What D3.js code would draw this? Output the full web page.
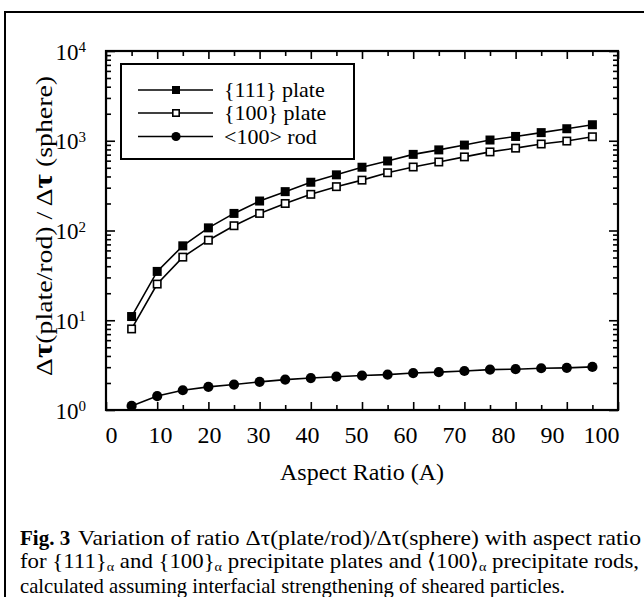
<!DOCTYPE html>
<html><head><meta charset="utf-8">
<script src="https://cdn.jsdelivr.net/npm/d3@7"></script>
<style>
body{margin:0;background:#fff}
svg{display:block}
text{font-family:"Liberation Serif","Times New Roman",serif;fill:#000}
</style>
</head><body>
<svg id="c" width="644" height="597"></svg>
<script>
// ---- data ----
const aspect   = [5,10,15,20,25,30,35,40,45,50,55,60,65,70,75,80,85,90,95];
const plate111 = [11,35,67.5,107,155,213,271,345,417,507,595,705,791,895,1019,1117,1232,1361,1508];
const plate100 = [8.0,25.3,50.5,78,113,155,200,253,308,364,440,510,580,661,751,827,920,992,1108];
const rod100   = [1.11,1.43,1.66,1.81,1.92,2.06,2.18,2.27,2.35,2.42,2.48,2.58,2.64,2.72,2.82,2.85,2.92,2.95,3.02];
const xTickLabels = [0,10,20,30,40,50,60,70,80,90,100];
const yDecades = [0,1,2,3,4];
const seriesNames = ["{111} plate","{100} plate","<100> rod"];

const svg = d3.select("#c");
const L=106,R=618,T=51,B=410;
const x = d3.scaleLinear().domain([0,100]).range([L,R]);
const xLab = d3.scaleLinear().domain([0,100]).range([111,601]); // labels sit slightly inside the ticks in the scan
const y = d3.scaleLog().domain([1,1e4]).range([B,T]);

// outer figure border
svg.append("path").attr("d","M5,597 V12 H644").attr("fill","none").attr("stroke","#000").attr("stroke-width",2);

const xMinor = d3.range(5,100,10);
const yMinor = [];
for(let k=0;k<4;k++) for(let m=2;m<10;m++) yMinor.push(m*Math.pow(10,k));

function styleAxis(g){ g.select(".domain").remove(); g.selectAll(".tick line").attr("stroke","#000").attr("stroke-width",1.6); }

// bottom ticks + labels
svg.append("g").attr("transform",`translate(0,${B})`).call(d3.axisBottom(x).tickValues(xTickLabels).tickSize(-8).tickFormat("")).call(styleAxis);
svg.append("g").attr("transform",`translate(0,${B})`).call(d3.axisBottom(x).tickValues(xMinor).tickSize(-5).tickFormat("")).call(styleAxis);
const gxl = svg.append("g").attr("transform",`translate(0,${B})`)
  .call(d3.axisBottom(xLab).tickValues(xTickLabels).tickSize(0).tickPadding(19).tickFormat(d=>d));
gxl.select(".domain").remove(); gxl.selectAll(".tick line").remove();
gxl.selectAll("text").attr("font-size",24).attr("font-family","Liberation Serif").attr("dy","0.6em");
// top ticks
svg.append("g").attr("transform",`translate(0,${T})`).call(d3.axisTop(x).tickValues(xTickLabels).tickSize(-8).tickFormat("")).call(styleAxis);
svg.append("g").attr("transform",`translate(0,${T})`).call(d3.axisTop(x).tickValues(xMinor).tickSize(-5).tickFormat("")).call(styleAxis);

// left axis
const gyl = svg.append("g").attr("transform",`translate(${L},0)`)
  .call(d3.axisLeft(y).tickValues(yDecades.map(e=>Math.pow(10,e))).tickSize(-9).tickPadding(20).tickFormat(""));
styleAxis(gyl);
gyl.selectAll(".tick text").each(function(d){
  const t=d3.select(this).attr("font-size",23).attr("font-family","Liberation Serif").attr("dy","0.35em");
  t.append("tspan").text("10");
  t.append("tspan").attr("dy","-0.5em").attr("font-size",15).text(Math.round(Math.log10(d)));
});
svg.append("g").attr("transform",`translate(${L},0)`).call(d3.axisLeft(y).tickValues(yMinor).tickSize(-5).tickFormat("")).call(styleAxis);
// right axis
svg.append("g").attr("transform",`translate(${R},0)`).call(d3.axisRight(y).tickValues(yDecades.map(e=>Math.pow(10,e))).tickSize(-9).tickFormat("")).call(styleAxis);
svg.append("g").attr("transform",`translate(${R},0)`).call(d3.axisRight(y).tickValues(yMinor).tickSize(-5).tickFormat("")).call(styleAxis);

// frame
svg.append("rect").attr("x",L).attr("y",T).attr("width",R-L).attr("height",B-T).attr("fill","none").attr("stroke","#000").attr("stroke-width",2.2);

// lines
const line = d3.line().x(d=>x(d[0])).y(d=>y(d[1]));
const data = [plate111,plate100,rod100].map(s=>aspect.map((a,i)=>[a,s[i]]));
data.forEach(d=>svg.append("path").datum(d).attr("d",line).attr("fill","none").attr("stroke","#000").attr("stroke-width",1.6));

function marker(g,type,cx,cy,s){
  if(type===0) g.append("rect").attr("x",cx-s/2).attr("y",cy-s/2).attr("width",s).attr("height",s).attr("fill","#000");
  else if(type===1) g.append("rect").attr("x",cx-s/2+0.8).attr("y",cy-s/2+0.8).attr("width",s-1.6).attr("height",s-1.6).attr("fill","#fff").attr("stroke","#000").attr("stroke-width",1.6);
  else g.append("circle").attr("cx",cx).attr("cy",cy).attr("r",s/2+0.6).attr("fill","#000");
}
const gm = svg.append("g");
data.forEach((d,k)=>d.forEach(p=>marker(gm,k,x(p[0]),y(p[1]),9)));

// legend
svg.append("rect").attr("x",121).attr("y",64).attr("width",233).attr("height",95).attr("fill","#fff").attr("stroke","#000").attr("stroke-width",2);
const legY=[90,113,136.5];
seriesNames.forEach((n,k)=>{
  const g=svg.append("g");
  g.append("line").attr("x1",138).attr("x2",213).attr("y1",legY[k]).attr("y2",legY[k]).attr("stroke","#000").attr("stroke-width",1.4);
  marker(g,k,176,legY[k],8);
  g.append("text").attr("x",224).attr("y",legY[k]).attr("dy","0.33em").attr("font-size",22).text(n);
});

// axis titles
svg.append("text").attr("x",(L+R)/2).attr("y",480).attr("text-anchor","middle").attr("font-size",24).text("Aspect Ratio (A)");
const yt = svg.append("text").attr("transform",`translate(52,226) rotate(-90)`).attr("text-anchor","middle").attr("font-size",24)
  .attr("textLength",300).attr("lengthAdjust","spacingAndGlyphs");
yt.append("tspan").text("Δ");
yt.append("tspan").attr("font-weight","bold").attr("font-size",27).text("τ");
yt.append("tspan").text("(plate/rod) / Δ");
yt.append("tspan").attr("font-weight","bold").attr("font-size",27).text("τ");
yt.append("tspan").text(" (sphere)");

// caption
const capFont=21;
svg.append("text").attr("x",20).attr("y",545).attr("font-size",capFont).attr("font-weight","bold").text("Fig. 3");
svg.append("text").attr("x",78).attr("y",545).attr("font-size",capFont).attr("textLength",563).attr("lengthAdjust","spacingAndGlyphs").text("Variation of ratio Δτ(plate/rod)/Δτ(sphere) with aspect ratio");
const c2 = svg.append("text").attr("x",20).attr("y",568).attr("font-size",capFont).attr("textLength",619).attr("lengthAdjust","spacingAndGlyphs");
const parts=[["for {111}",0],["α",1],[" and {100}",0],["α",1],[" precipitate plates and ⟨100⟩",0],["α",1],[" precipitate rods,",0]];
let sub=false;
parts.forEach(([t,s])=>{
  const ts=c2.append("tspan").text(t);
  if(s){ts.attr("dy",3).attr("font-size",13);sub=true;}
  else if(sub){ts.attr("dy",-3);sub=false;}
});
svg.append("text").attr("x",20).attr("y",593).attr("font-size",capFont).attr("textLength",545).attr("lengthAdjust","spacingAndGlyphs").text("calculated assuming interfacial strengthening of sheared particles.");
</script>
</body></html>
